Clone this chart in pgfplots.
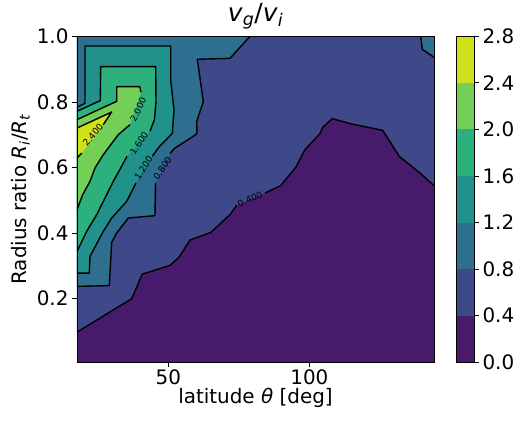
\documentclass[border=0pt]{standalone}
\usepackage{fontspec}
\setmainfont{DejaVu Sans}
\usepackage{pgfplots}
\pgfplotsset{compat=1.18}
\usetikzlibrary{calc}
\definecolor{c0}{RGB}{72,26,108}
\definecolor{c1}{RGB}{63,72,136}
\definecolor{c2}{RGB}{46,110,142}
\definecolor{c3}{RGB}{33,145,140}
\definecolor{c4}{RGB}{44,177,124}
\definecolor{c5}{RGB}{115,207,85}
\definecolor{c6}{RGB}{208,225,28}

\begin{document}
\begin{tikzpicture}
\begin{axis}[
	name=main,
	scale only axis,
	width=357bp, height=326bp,
	xmin=17.6, xmax=144.2,
	ymin=0.006, ymax=1.0,
	axis on top,
	axis background/.style={fill=c0},
	xtick={50,100},
	ytick={0.2,0.4,0.6,0.8,1.0},
	tick pos=left,
	tick align=outside,
	major tick length=5bp,
	every tick/.style={black, line width=0.8bp},
	axis line style={line width=0.8bp},
	/pgf/number format/assume math mode=true,
	tick label style={font=\fontsize{20}{24}\selectfont},
	xticklabel style={yshift=1bp},
	yticklabel style={/pgf/number format/fixed, /pgf/number format/fixed zerofill, /pgf/number format/precision=1},
	label style={font=\fontsize{20}{24}\selectfont},
	xlabel={latitude \textit{θ} [deg]},
	xlabel style={yshift=4bp},
	ylabel={Radius ratio \textit{R}\textsubscript{\textit{i}}/\textit{R}\textsubscript{\textit{t}}},
	title={\textit{v}\textsubscript{\textit{g}}/\textit{v}\textsubscript{\textit{i}}},
	title style={font=\fontsize{25}{28}\selectfont, yshift=-2bp},
]
% filled regions, value >= level
\addplot[fill=c1, draw=none] coordinates {
	(17.6,0.098) (37.0,0.200) (40.76,0.275) (45.86,0.2885) (50.58,0.3016) (53.77,0.326)
	(57.67,0.3788) (65.12,0.4023) (71.86,0.4562) (74.23,0.4846)
	(84.27,0.5221) (89.83,0.5447) (95.26,0.6014) (98.45,0.6545) (103.77,0.7033) (104.73,0.7225)
	(108.13,0.749) (114.41,0.7338) (126.0,0.7133) (131.89,0.634) (139.23,0.5831) (144.2,0.5447)
	(144.2,1.0) (17.6,1.0)};
\addplot[fill=c2, draw=none] coordinates {
	(17.6,0.2376) (29.05,0.2397) (29.90,0.3718) (31.68,0.4001) (35.79,0.4459) (45.26,0.4532) (45.44,0.5526)
	(50.58,0.6432) (52.35,0.6594) (58.84,0.695) (60.15,0.7042) (60.05,0.7399) (62.39,0.8009)
	(60.26,0.9299) (71.86,0.9329) (78.95,1.0) (17.6,1.0)};
\addplot[fill=c2, draw=none] coordinates {(139.48,1.0) (140.05,0.9604) (144.2,0.936) (144.2,1.0)};
\addplot[fill=c3, draw=none] coordinates {
	(17.6,0.2781) (21.96,0.2781) (22.21,0.3291) (26.93,0.4053) (29.90,0.4459) (35.22,0.4968) (38.52,0.5526)
	(44.30,0.634) (46.57,0.6615) (51.39,0.7042) (52.0,0.7752) (50.83,0.8667) (50.83,0.9704)
	(20.44,0.9704) (20.44,0.7957) (17.6,0.7835)};
\addplot[fill=c4, draw=none] coordinates {
	(17.6,0.3443) (21.04,0.4053) (24.59,0.4562) (29.30,0.5374) (30.47,0.5578) (32.85,0.5944) (35.33,0.634)
	(43.49,0.7103) (45.08,0.7469) (45.61,0.8018) (45.51,0.9076) (26.0,0.9076) (25.86,0.8039) (17.6,0.7713)};
\addplot[fill=c5, draw=none] coordinates {
	(17.6,0.4715) (19.62,0.5172) (22.21,0.5578) (23.98,0.5984) (26.93,0.6392) (32.25,0.7002) (36.39,0.7307)
	(40.30,0.8292) (39.83,0.8466) (31.68,0.8466) (31.68,0.8018) (17.6,0.746)};
\addplot[fill=c6, draw=none] coordinates {
	(17.6,0.7203) (29.90,0.7691) (26.93,0.7307) (19.27,0.6441) (17.6,0.6288)};

% contour lines, broken where the labels sit
\pgfplotsset{cline/.style={black, line width=1.4bp, line join=round}}
\addplot[cline] coordinates {(17.6,0.098) (37.0,0.200) (40.76,0.275) (45.86,0.2885) (50.58,0.3016) (53.77,0.326)
	(57.67,0.3788) (65.12,0.4023) (71.86,0.4562) (74.23,0.4846)};
\addplot[cline] coordinates {(84.27,0.5221) (89.83,0.5447) (95.26,0.6014) (98.45,0.6545) (103.77,0.7033) (104.73,0.7225)
	(108.13,0.749) (114.41,0.7338) (126.0,0.7133) (131.89,0.634) (139.23,0.5831) (144.2,0.5447)};
\addplot[cline] coordinates {(17.6,0.2376) (29.05,0.2397) (29.90,0.3718) (31.68,0.4001) (35.79,0.4459) (45.26,0.4532) (45.44,0.5526)};
\addplot[cline] coordinates {(50.58,0.6432) (52.35,0.6594) (58.84,0.695) (60.15,0.7042) (60.05,0.7399) (62.39,0.8009)
	(60.26,0.9299) (71.86,0.9329) (78.95,1.0)};
\addplot[cline] coordinates {(139.48,1.0) (140.05,0.9604) (144.2,0.936)};
\addplot[cline] coordinates {(17.6,0.2781) (21.96,0.2781) (22.21,0.3291) (26.93,0.4053) (29.90,0.4459) (35.22,0.4968) (38.52,0.5526)};
\addplot[cline] coordinates {(44.30,0.634) (46.57,0.6615) (51.39,0.7042) (52.0,0.7752) (50.83,0.8667) (50.83,0.9704)
	(20.44,0.9704) (20.44,0.7957) (17.6,0.7835)};
\addplot[cline] coordinates {(17.6,0.3443) (21.04,0.4053) (24.59,0.4562) (29.30,0.5374) (30.47,0.5578) (32.85,0.5944) (35.33,0.634)};
\addplot[cline] coordinates {(43.49,0.7103) (45.08,0.7469) (45.61,0.8018) (45.51,0.9076) (26.0,0.9076) (25.86,0.8039) (17.6,0.7713)};
\addplot[cline] coordinates {(17.6,0.4715) (19.62,0.5172) (22.21,0.5578) (23.98,0.5984) (26.93,0.6392) (32.25,0.7002) (36.39,0.7307)};
\addplot[cline] coordinates {(40.30,0.8292) (39.83,0.8466) (31.68,0.8466) (31.68,0.8018) (17.6,0.746)};
\addplot[cline] coordinates {(17.6,0.7203) (29.90,0.7691) (26.93,0.7307)};
\addplot[cline] coordinates {(19.27,0.6441) (17.6,0.6288)};

% contour labels
\begin{scope}[every node/.style={font=\fontsize{9}{10}\selectfont, inner sep=0pt}]
\node[rotate=23] at (axis cs:78.95,0.503) {0.400};
\node[rotate=58] at (axis cs:47.92,0.5974) {0.800};
\node[rotate=58] at (axis cs:41.18,0.599) {1.200};
\node[rotate=58] at (axis cs:39.59,0.6737) {1.600};
\node[rotate=65] at (axis cs:39.3,0.776) {2.000};
\node[rotate=50] at (axis cs:23.27,0.6996) {2.400};
\end{scope}
\end{axis}

% colour bar
\begin{axis}[
	at={($(main.south west)+(379bp,0)$)}, anchor=south west,
	scale only axis,
	width=18bp, height=326bp,
	xmin=0, xmax=1, ymin=0, ymax=2.8,
	axis on top,
	xtick=\empty,
	ytick={0,0.4,0.8,1.2,1.6,2.0,2.4,2.8},
	ytick pos=right,
	yticklabel pos=right,
	tick align=outside,
	major tick length=5bp,
	every tick/.style={black, line width=0.8bp},
	axis line style={line width=0.8bp},
	/pgf/number format/assume math mode=true,
	tick label style={font=\fontsize{20}{24}\selectfont},
	yticklabel style={/pgf/number format/fixed, /pgf/number format/fixed zerofill, /pgf/number format/precision=1},
]
\addplot[fill=c0, draw=none] coordinates {(0,0) (1,0) (1,0.4) (0,0.4)};
\addplot[fill=c1, draw=none] coordinates {(0,0.4) (1,0.4) (1,0.8) (0,0.8)};
\addplot[fill=c2, draw=none] coordinates {(0,0.8) (1,0.8) (1,1.2) (0,1.2)};
\addplot[fill=c3, draw=none] coordinates {(0,1.2) (1,1.2) (1,1.6) (0,1.6)};
\addplot[fill=c4, draw=none] coordinates {(0,1.6) (1,1.6) (1,2.0) (0,2.0)};
\addplot[fill=c5, draw=none] coordinates {(0,2.0) (1,2.0) (1,2.4) (0,2.4)};
\addplot[fill=c6, draw=none] coordinates {(0,2.4) (1,2.4) (1,2.8) (0,2.8)};
\end{axis}

\path[use as bounding box] ($(main.south west)+(-77bp,-62bp)$) rectangle ($(main.south west)+(445bp,361bp)$);
\end{tikzpicture}
\end{document}
